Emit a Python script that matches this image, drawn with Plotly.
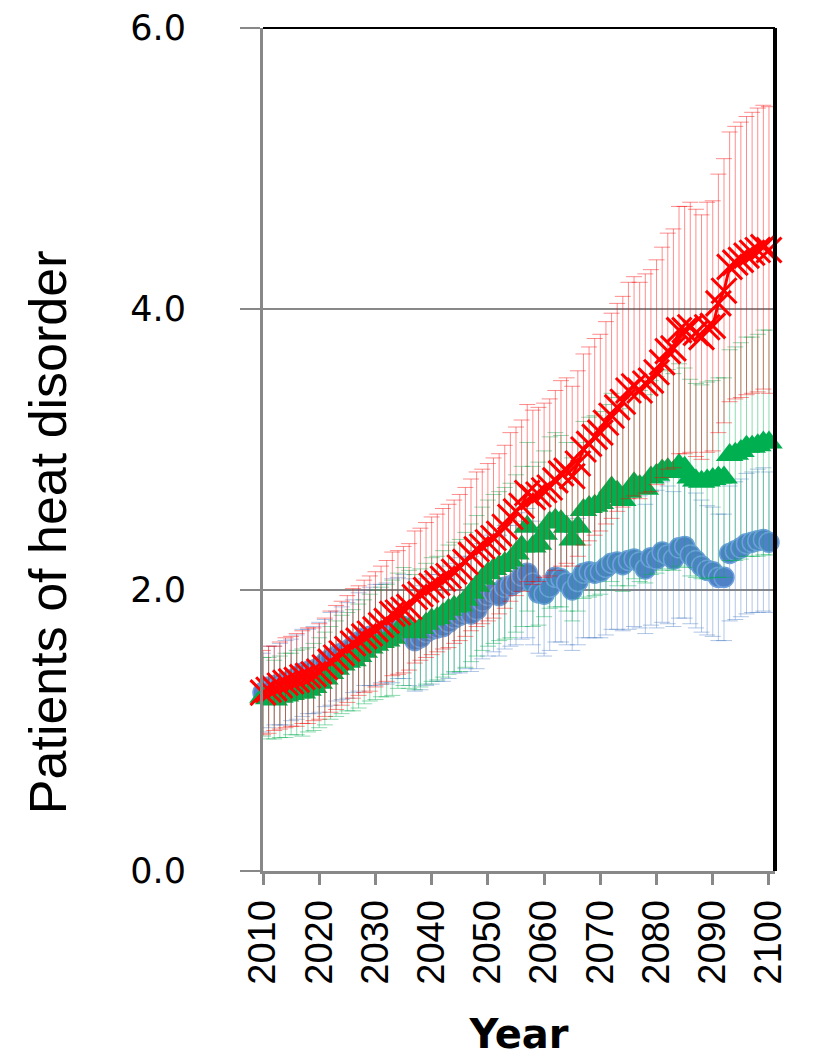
import plotly.graph_objects as go

years = list(range(2010, 2101))

blue_vals = [
    1.27, 1.31, 1.32, 1.33, 1.34, 1.36, 1.38, 1.41, 1.42, 1.43,
    1.45, 1.48, 1.51, 1.53, 1.55, 1.57, 1.60, 1.63, 1.66, 1.67,
    1.68, 1.69, 1.69, 1.71, 1.73, 1.74, 1.70, 1.64, 1.66, 1.70,
    1.72, 1.73, 1.74, 1.77, 1.80, 1.82, 1.84, 1.83, 1.86, 1.92,
    1.96, 1.98, 1.96, 2.02, 2.03, 2.05, 2.10, 2.12, 2.05, 1.98,
    1.97, 2.02, 2.09, 2.08, 2.05, 2.00, 2.06, 2.12, 2.13, 2.12,
    2.13, 2.16, 2.19, 2.20, 2.18, 2.21, 2.22, 2.20, 2.15, 2.23,
    2.22, 2.27, 2.25, 2.22, 2.30, 2.31, 2.25, 2.21, 2.17, 2.14,
    2.13, 2.09, 2.09, 2.26, 2.28, 2.30, 2.33, 2.34, 2.35, 2.36,
    2.34]

green_vals = [
    1.24, 1.23, 1.22, 1.24, 1.25, 1.26, 1.27, 1.27, 1.29, 1.31,
    1.34, 1.37, 1.41, 1.44, 1.47, 1.49, 1.50, 1.53, 1.56, 1.59,
    1.61, 1.63, 1.64, 1.66, 1.71, 1.74, 1.72, 1.70, 1.73, 1.76,
    1.79, 1.80, 1.83, 1.86, 1.88, 1.89, 1.93, 1.98, 2.03, 2.08,
    2.12, 2.15, 2.17, 2.19, 2.21, 2.26, 2.31, 2.45, 2.31, 2.33,
    2.40, 2.48, 2.50, 2.49, 2.45, 2.36, 2.45, 2.57, 2.59, 2.60,
    2.62, 2.66, 2.73, 2.70, 2.64, 2.70, 2.76, 2.74, 2.72, 2.80,
    2.82, 2.85, 2.86, 2.84, 2.89, 2.87, 2.80, 2.78, 2.77, 2.78,
    2.79, 2.80, 2.80, 2.96, 2.97, 2.99, 3.02, 3.02, 3.03, 3.05,
    3.05]

red_vals = [
    1.27, 1.29, 1.30, 1.32, 1.34, 1.35, 1.36, 1.38, 1.39, 1.40,
    1.42, 1.45, 1.49, 1.52, 1.55, 1.58, 1.62, 1.64, 1.67, 1.69,
    1.72, 1.75, 1.78, 1.83, 1.84, 1.86, 1.88, 1.95, 1.97, 2.00,
    2.03, 2.05, 2.08, 2.10, 2.13, 2.16, 2.20, 2.25, 2.29, 2.31,
    2.34, 2.37, 2.40, 2.45, 2.52, 2.56, 2.60, 2.69, 2.66, 2.68,
    2.71, 2.73, 2.78, 2.83, 2.85, 2.81, 2.90, 3.00, 3.04, 3.09,
    3.12, 3.19, 3.24, 3.30, 3.34, 3.42, 3.45, 3.42, 3.47, 3.49,
    3.55, 3.62, 3.70, 3.72, 3.85, 3.85, 3.87, 3.83, 3.80, 3.87,
    3.88, 4.04, 4.13, 4.30, 4.33, 4.35, 4.38, 4.40, 4.42, 4.44,
    4.42]

blue_err = [
    0.28, 0.29, 0.28, 0.29, 0.30, 0.29, 0.30, 0.31, 0.30, 0.31,
    0.32, 0.31, 0.33, 0.32, 0.33, 0.34, 0.33, 0.35, 0.34, 0.35,
    0.36, 0.35, 0.36, 0.37, 0.36, 0.37, 0.38, 0.36, 0.37, 0.38,
    0.39, 0.38, 0.39, 0.40, 0.39, 0.41, 0.40, 0.41, 0.42, 0.41,
    0.43, 0.42, 0.43, 0.44, 0.43, 0.44, 0.45, 0.46, 0.44, 0.43,
    0.44, 0.45, 0.46, 0.45, 0.44, 0.43, 0.45, 0.46, 0.47, 0.46,
    0.47, 0.48, 0.47, 0.48, 0.47, 0.49, 0.48, 0.47, 0.46, 0.48,
    0.49, 0.50, 0.49, 0.48, 0.50, 0.51, 0.49, 0.48, 0.47, 0.46,
    0.46, 0.45, 0.45, 0.48, 0.49, 0.49, 0.50, 0.50, 0.51, 0.51,
    0.50]

green_err = [
    0.28, 0.29, 0.28, 0.29, 0.30, 0.29, 0.30, 0.31, 0.30, 0.31,
    0.32, 0.33, 0.33, 0.34, 0.35, 0.35, 0.36, 0.37, 0.37, 0.38,
    0.39, 0.39, 0.40, 0.41, 0.41, 0.42, 0.42, 0.41, 0.42, 0.43,
    0.44, 0.44, 0.45, 0.46, 0.46, 0.47, 0.48, 0.49, 0.50, 0.51,
    0.52, 0.53, 0.53, 0.54, 0.55, 0.56, 0.57, 0.60, 0.57, 0.58,
    0.59, 0.61, 0.62, 0.61, 0.60, 0.58, 0.60, 0.63, 0.64, 0.64,
    0.65, 0.66, 0.67, 0.67, 0.65, 0.67, 0.68, 0.68, 0.67, 0.69,
    0.70, 0.71, 0.71, 0.70, 0.72, 0.71, 0.70, 0.69, 0.69, 0.70,
    0.70, 0.71, 0.71, 0.75, 0.76, 0.77, 0.78, 0.78, 0.79, 0.80,
    0.80]

red_err = [
    0.30, 0.31, 0.30, 0.31, 0.32, 0.32, 0.33, 0.33, 0.34, 0.33,
    0.34, 0.35, 0.36, 0.37, 0.37, 0.38, 0.39, 0.39, 0.40, 0.41,
    0.41, 0.42, 0.43, 0.44, 0.44, 0.45, 0.45, 0.47, 0.47, 0.48,
    0.49, 0.49, 0.50, 0.51, 0.51, 0.52, 0.53, 0.54, 0.55, 0.55,
    0.56, 0.57, 0.57, 0.58, 0.60, 0.60, 0.61, 0.63, 0.62, 0.62,
    0.62, 0.63, 0.64, 0.66, 0.66, 0.64, 0.66, 0.68, 0.69, 0.70,
    0.70, 0.72, 0.73, 0.74, 0.75, 0.77, 0.78, 0.77, 0.78, 0.79,
    0.80, 0.82, 0.84, 0.85, 0.88, 0.88, 0.89, 0.88, 0.87, 0.89,
    0.89, 0.92, 0.94, 0.96, 0.97, 0.98, 0.99, 1.00, 1.01, 1.01,
    1.02]

x_ticks = [2010, 2020, 2030, 2040, 2050, 2060, 2070, 2080, 2090, 2100]
y_ticks = [0, 2, 4, 6]
y_tick_text = ["0.0", "2.0", "4.0", "6.0"]

fig = go.Figure()

fig.add_trace(go.Scatter(
    x=years, y=blue_vals, mode="markers", cliponaxis=False,
    marker=dict(symbol="circle", size=20, color="#4F81C7",
                line=dict(color="#6FA0DE", width=1.5)),
    error_y=dict(type="data", array=blue_err, visible=True,
                 color="rgba(79,129,199,0.5)", thickness=0.9, width=8),
    showlegend=False))

fig.add_trace(go.Scatter(
    x=years, y=green_vals, mode="markers", cliponaxis=False,
    marker=dict(symbol="triangle-up", size=24, color="#00B050",
                line=dict(width=0)),
    error_y=dict(type="data", array=green_err, visible=True,
                 color="rgba(0,176,80,0.5)", thickness=0.9, width=8),
    showlegend=False))

fig.add_trace(go.Scatter(
    x=years, y=red_vals, mode="lines+markers", cliponaxis=False,
    line=dict(color="#FF0000", width=3),
    marker=dict(symbol="x-thin", size=25, color="#FF0000",
                line=dict(color="#FF0000", width=3)),
    error_y=dict(type="data", array=red_err, visible=True,
                 color="rgba(255,0,0,0.5)", thickness=0.9, width=8),
    showlegend=False))

fig.update_layout(
    width=807, height=1049,
    margin=dict(l=255, r=40, t=20, b=186, autoexpand=False),
    paper_bgcolor="white", plot_bgcolor="white",
    xaxis=dict(
        range=[2010, 2101.07], tickmode="array", tickvals=x_ticks,
        ticktext=[str(v) for v in x_ticks], tickangle=-90,
        ticks="outside", ticklen=11, tickwidth=3, tickcolor="#888888",
        showline=True, linecolor="#888888", linewidth=3,
        showgrid=False, zeroline=False, automargin=False,
        ticklabeloverflow="allow",
        tickfont=dict(family="Liberation Sans", size=38, color="black"),
        title=dict(text="<b>Year</b>", standoff=39,
                   font=dict(family="DejaVu Sans", size=40, color="black")),
    ),
    yaxis=dict(
        range=[0, 6], tickmode="array", tickvals=y_ticks, ticktext=y_tick_text,
        ticks="outside", ticklen=20, tickwidth=2, tickcolor="#888888",
        ticklabelstandoff=47, automargin=False, ticklabeloverflow="allow",
        showline=True, linecolor="#888888", linewidth=3,
        showgrid=True, gridcolor="#888888", gridwidth=2, zeroline=False,
        tickfont=dict(family="DejaVu Sans", size=35, color="black"),
    ),
    shapes=[
        dict(type="line", xref="paper", yref="paper", x0=0, x1=1, y0=1, y1=1,
             line=dict(color="black", width=2)),
        dict(type="line", xref="paper", yref="paper", x0=1, x1=1, y0=0, y1=1,
             line=dict(color="black", width=4)),
    ],
    annotations=[
        dict(text="Patients of heat disorder", xref="paper", yref="paper",
             x=-0.42, y=0.065, xanchor="center", yanchor="bottom",
             textangle=-90, showarrow=False,
             font=dict(family="Liberation Sans", size=52, color="black")),
    ],
)

fig.write_html("out.html")
